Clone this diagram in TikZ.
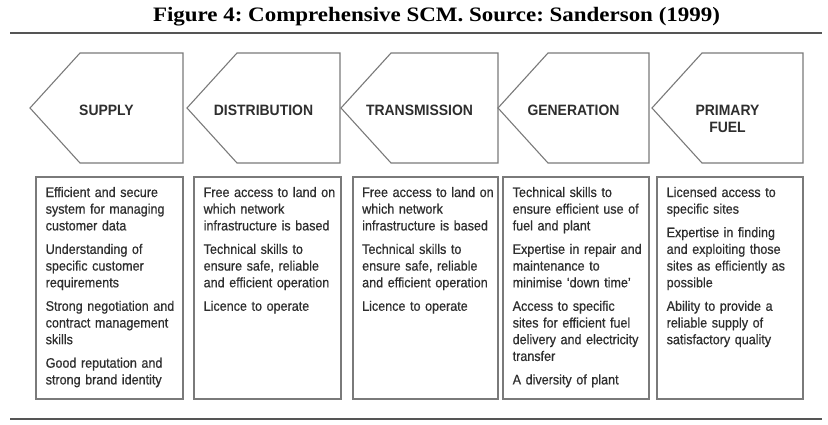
\documentclass[tikz,border=0pt]{standalone}
\usepackage{fontspec}
\setmainfont{Liberation Serif}
\newfontfamily\titlefont[FakeStretch=1.12]{Liberation Serif}
\newfontfamily\bodyfont[FakeStretch=0.91, FakeBold=0.6]{Liberation Sans}
\newfontfamily\headfont[FakeStretch=0.93]{Liberation Sans}
\definecolor{rulegray}{HTML}{555555}
\definecolor{linegray}{HTML}{7A7A7A}
\definecolor{txtgray}{HTML}{2E2E2E}
\tikzset{
  rulestyle/.style={draw=rulegray, line width=2pt},
  penta/.style={draw=linegray, line width=1.1pt, fill=white},
  boxstyle/.style={draw=linegray, line width=1.1pt, fill=white},
  headlbl/.style={anchor=base, inner sep=0pt, align=center, text=txtgray,
    font=\headfont\bfseries\fontsize{15pt}{17pt}\selectfont},
  bodytxt/.style={anchor=base west, inner sep=0pt, text width=150pt, align=left, text=txtgray,
    font=\bodyfont\fontsize{13.8pt}{16.7pt}\selectfont},
  titlestyle/.style={anchor=base, inner sep=0pt, text=black,
    font=\titlefont\bfseries\fontsize{20.5pt}{24pt}\selectfont}
}
\frenchspacing
\begin{document}
\begin{tikzpicture}[x=1pt,y=-1pt]
\useasboundingbox (0,0) rectangle (828,424);
\fill[white] (0,0) rectangle (828,424);
% title and rules
\node[titlestyle] (title) at (436.5,21) {Figure 4: Comprehensive SCM. Source: Sanderson (1999)};
\coordinate (r1a) at (10,33);
\coordinate (r1b) at (822,33);
\coordinate (r2a) at (10,419);
\coordinate (r2b) at (822,419);
\draw[rulestyle] (r1a) -- (r1b);
\draw[rulestyle] (r2a) -- (r2b);
% pentagons: tip x / right x
\foreach \t/\r in {30/183, 187/340, 341/498, 498/649, 652/803}{
  \draw[penta] (\t,108) -- (\t+50,53) -- (\r,53) -- (\r,163) -- (\t+50,163) -- cycle;
}
\node[headlbl] (h1) at (106.5,115.5) {SUPPLY};
\node[headlbl] (h2) at (263.5,115.5) {DISTRIBUTION};
\node[headlbl] (h3) at (419.5,115.5) {TRANSMISSION};
\node[headlbl] (h4) at (573.5,115.5) {GENERATION};
\node[headlbl] (h5) at (727.5,132.5) {PRIMARY\\FUEL};
% lower boxes
\foreach \l/\r in {36/183, 194/341, 353/498, 503/649, 657/803}{
  \draw[boxstyle] (\l,177) rectangle (\r,399);
}
\node[bodytxt] (b1) at (45.5,197) {Efficient and secure\\system for managing\\customer data\\[6.8pt]Understanding of\\specific customer\\requirements\\[6.8pt]Strong negotiation and\\contract management\\skills\\[6.8pt]Good reputation and\\strong brand identity};
\node[bodytxt] (b2) at (203.5,197) {Free access to land on\\which network\\infrastructure is based\\[6.8pt]Technical skills to\\ensure safe, reliable\\and efficient operation\\[6.8pt]Licence to operate};
\node[bodytxt] (b3) at (362,197) {Free access to land on\\which network\\infrastructure is based\\[6.8pt]Technical skills to\\ensure safe, reliable\\and efficient operation\\[6.8pt]Licence to operate};
\node[bodytxt] (b4) at (512.5,197) {Technical skills to\\ensure efficient use of\\fuel and plant\\[6.8pt]Expertise in repair and\\maintenance to\\minimise ‘down time’\\[6.8pt]Access to specific\\sites for efficient fuel\\delivery and electricity\\transfer\\[6.8pt]A diversity of plant};
\node[bodytxt] (b5) at (666.5,197) {Licensed access to\\specific sites\\[6.8pt]Expertise in finding\\and exploiting those\\sites as efficiently as\\possible\\[6.8pt]Ability to provide a\\reliable supply of\\satisfactory quality};
\end{tikzpicture}
\end{document}
